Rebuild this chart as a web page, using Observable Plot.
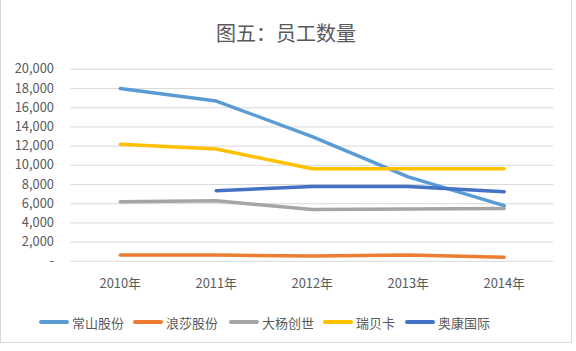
<!DOCTYPE html>
<html><head><meta charset="utf-8">
<script src="https://cdn.jsdelivr.net/npm/d3@7"></script>
<script src="https://cdn.jsdelivr.net/npm/@observablehq/plot@0.6"></script>
<style>
body{margin:0;background:#fff;font-family:"Noto Sans CJK SC","Noto Sans",sans-serif;}
#box{position:relative;width:572px;height:343px;border:1px solid #D9D9D9;border-top:none;box-sizing:border-box;overflow:hidden;}
#title{position:absolute;left:0;top:19px;width:100%;text-align:center;font-size:20px;line-height:28px;color:#595959;}
#chart{position:absolute;left:0;top:55px;}
#legend{position:absolute;left:0;top:312px;width:100%;height:20px;}
.item{position:absolute;top:0;height:20px;display:flex;align-items:center;font-size:13px;color:#595959;}
.sw{width:30px;height:4px;border-radius:2px;margin-right:3px;}
</style></head>
<body>
<div id="box">
<div id="title">图五：员工数量</div>
<div id="chart"></div>
<div id="legend"></div>
</div>
<script>
const years = ["2010年","2011年","2012年","2013年","2014年"];
const seriesNames = ["常山股份","浪莎股份","大杨创世","瑞贝卡","奥康国际"];
const changshan = [18000,16700,13000,8800,5800];
const langsha = [650,650,560,650,420];
const dayang = [6200,6300,5400,5450,5500];
const ruibeika = [12200,11700,9650,9650,9650];
const aokang = [null,7350,7800,7800,7250];
const colors = ["#5B9BD5","#ED7D31","#A5A5A5","#FFC000","#4472C4"];
const yTicks = [0,2000,4000,6000,8000,10000,12000,14000,16000,18000,20000];

const all = [changshan,langsha,dayang,ruibeika,aokang];
const rows = [];
all.forEach((vals,si)=>vals.forEach((v,i)=>{ if(v!=null) rows.push({series:seriesNames[si],year:years[i],value:v}); }));

const chart = Plot.plot({
  width:576, height:245,
  marginTop:14, marginBottom:37, marginLeft:70, marginRight:18,
  style:{fontFamily:'"Noto Sans CJK SC","Noto Sans",sans-serif',fontSize:"13px",color:"#595959",background:"transparent"},
  x:{type:"point",domain:years,padding:0.5,label:null},
  y:{domain:[0,20000],label:null},
  color:{domain:seriesNames,range:colors},
  marks:[
    Plot.gridY(yTicks,{stroke:"#D9D9D9",strokeOpacity:1,strokeWidth:1}),
    Plot.axisX({tickSize:0,tickPadding:18,fontSize:13}),
    Plot.axisY({ticks:yTicks,tickSize:0,tickPadding:17,fontSize:13,tickFormat:d=>d===0?"-":d3.format(",")(d)}),
    Plot.line(rows,{x:"year",y:"value",z:"series",stroke:"series",strokeWidth:3.5,strokeLinecap:"round",strokeLinejoin:"round"})
  ]
});
document.getElementById("chart").appendChild(chart);

const legendX = [38,132,228,322,404];
const lg = document.getElementById("legend");
seriesNames.forEach((n,i)=>{
  const d = document.createElement("div");
  d.className="item"; d.style.left=legendX[i]+"px";
  d.innerHTML = `<span class="sw" style="background:${colors[i]}"></span><span>${n}</span>`;
  lg.appendChild(d);
});
</script>
</body></html>
